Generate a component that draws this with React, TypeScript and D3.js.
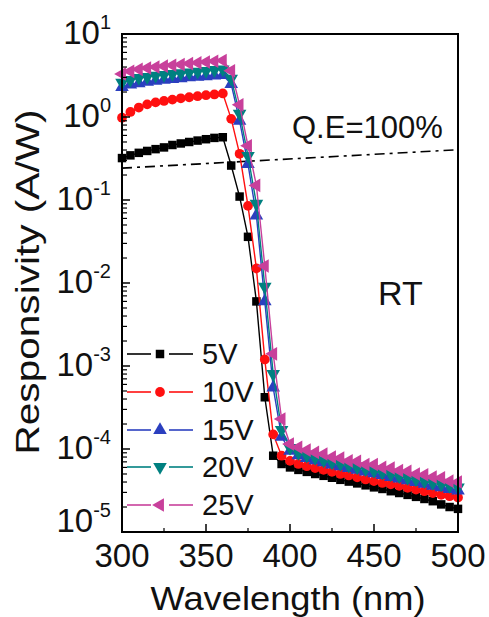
import React from "react";
import * as d3 from "d3";

const wavelengths = [
  300, 305, 310, 315, 320, 325, 330, 335, 340, 345, 350, 355, 360, 365, 370, 375, 380, 385, 390, 395,
  400, 405, 410, 415, 420, 425, 430, 435, 440, 445, 450, 455, 460, 465, 470, 475, 480, 485, 490, 495, 500,
];

const r5V = [
  0.32, 0.345, 0.37, 0.39, 0.41, 0.43, 0.46, 0.48, 0.5, 0.52, 0.54, 0.56, 0.57,
  0.26, 0.11, 0.036, 0.006, 4.2e-4, 8.3e-5, 6.6e-5,
  6.0e-5, 5.6e-5, 5.3e-5, 5.0e-5, 4.75e-5, 4.5e-5, 4.25e-5, 4.05e-5, 3.85e-5, 3.65e-5, 3.45e-5,
  3.3e-5, 3.1e-5, 2.95e-5, 2.8e-5, 2.65e-5, 2.5e-5, 2.35e-5, 2.15e-5, 2.0e-5, 1.9e-5,
];
const r10V = [
  0.98, 1.15, 1.3, 1.42, 1.5, 1.56, 1.62, 1.68, 1.73, 1.78, 1.83, 1.87, 1.92,
  0.95, 0.36, 0.085, 0.015, 1.2e-3, 1.5e-4, 8.3e-5,
  7.2e-5, 6.6e-5, 6.2e-5, 5.9e-5, 5.6e-5, 5.3e-5, 5.0e-5, 4.8e-5, 4.55e-5, 4.3e-5, 4.1e-5,
  3.9e-5, 3.75e-5, 3.6e-5, 3.4e-5, 3.25e-5, 3.1e-5, 2.95e-5, 2.8e-5, 2.7e-5, 2.6e-5,
];
const r15V = [
  2.3, 2.45, 2.55, 2.65, 2.72, 2.8, 2.87, 2.93, 3.0, 3.05, 3.1, 3.15, 3.2,
  2.5, 0.9, 0.27, 0.065, 0.006, 5.5e-4, 1.4e-4,
  9.5e-5, 8.4e-5, 7.8e-5, 7.3e-5, 6.9e-5, 6.5e-5, 6.2e-5, 5.9e-5, 5.6e-5, 5.35e-5, 5.1e-5,
  4.85e-5, 4.6e-5, 4.4e-5, 4.2e-5, 4.0e-5, 3.8e-5, 3.6e-5, 3.45e-5, 3.3e-5, 3.15e-5,
];
const r20V = [
  2.6, 2.8, 2.95, 3.05, 3.15, 3.22, 3.3, 3.37, 3.45, 3.52, 3.6, 3.68, 3.75,
  2.9, 1.1, 0.34, 0.09, 0.009, 8e-4, 1.7e-4,
  1.03e-4, 9.0e-5, 8.3e-5, 7.8e-5, 7.3e-5, 6.9e-5, 6.6e-5, 6.3e-5, 6.0e-5, 5.7e-5, 5.45e-5,
  5.2e-5, 4.95e-5, 4.7e-5, 4.5e-5, 4.3e-5, 4.1e-5, 3.9e-5, 3.75e-5, 3.6e-5, 3.45e-5,
];
const r25V = [
  3.3, 3.55, 3.75, 3.9, 4.0, 4.1, 4.2, 4.3, 4.4, 4.5, 4.6, 4.7, 4.8,
  3.6, 1.4, 0.45, 0.15, 0.016, 1.4e-3, 2.3e-4,
  1.15e-4, 1.05e-4, 9.7e-5, 9.1e-5, 8.7e-5, 8.0e-5, 7.8e-5, 7.2e-5, 7.1e-5, 6.5e-5, 6.5e-5,
  6.0e-5, 5.9e-5, 5.5e-5, 5.4e-5, 5.0e-5, 4.9e-5, 4.6e-5, 4.5e-5, 4.1e-5, 4.0e-5,
];

const seriesLabels = ["5V", "10V", "15V", "20V", "25V"];
const seriesValues = [r5V, r10V, r15V, r20V, r25V];
const seriesColors = ["#000000", "#ff1010", "#2b3fbf", "#008080", "#c8409b"];
const seriesSymbols = ["square", "circle", "up", "down", "left"];

const qeWavelengths = [300, 500];
const qeValues = [0.242, 0.403];

const xTicks = [300, 350, 400, 450, 500];
const xMinorTicks = [325, 375, 425, 475];
const yExponents = [1, 0, -1, -2, -3, -4, -5];

const W = 489;
const H = 617;
const L = 122;
const R = 458;
const T = 34;
const B = 532;
const FONT = "'Liberation Sans', Arial, Helvetica, sans-serif";

function Marker({ kind, x, y, color }: { kind: string; x: number; y: number; color: string }) {
  let type: any = d3.symbolSquare;
  let size = 72;
  let rot = 0;
  if (kind === "circle") { type = d3.symbolCircle; size = 75; }
  if (kind === "up") { type = d3.symbolTriangle; size = 80; }
  if (kind === "down") { type = d3.symbolTriangle; size = 80; rot = 180; }
  if (kind === "left") { type = d3.symbolTriangle; size = 80; rot = -90; }
  const p = d3.symbol().type(type).size(size)() || "";
  return <path d={p} transform={`translate(${x},${y}) rotate(${rot})`} fill={color} />;
}

export default function App() {
  const x = d3.scaleLinear().domain([300, 500]).range([L, R]);
  const y = d3.scaleLog().domain([1e-5, 10]).range([B, T]);
  const line = d3
    .line<[number, number]>()
    .x((d) => x(d[0]))
    .y((d) => y(d[1]));

  const minorY: number[] = [];
  for (let e = -5; e < 1; e++) {
    for (let k = 2; k <= 9; k++) minorY.push(k * Math.pow(10, e));
  }

  const legendYs = [354, 392, 430, 467, 505];

  return (
    <svg width={W} height={H} style={{ position: "absolute", left: 0, top: 0, background: "#fff" }} fontFamily={FONT}>
      <rect x={0} y={0} width={W} height={H} fill="#fff" />
      <path
        d={line(qeWavelengths.map((w, i) => [w, qeValues[i]]) as [number, number][]) || ""}
        stroke="#000"
        strokeWidth={1.6}
        fill="none"
        strokeDasharray="10 5 3 5"
      />
      {seriesValues.map((vals, si) => {
        const pts = wavelengths.map((w, i) => [w, vals[i]] as [number, number]);
        return (
          <g key={si}>
            <path d={line(pts) || ""} stroke={seriesColors[si]} strokeWidth={1.4} fill="none" />
            {pts.map((p, i) => (
              <Marker key={i} kind={seriesSymbols[si]} x={x(p[0])} y={y(p[1])} color={seriesColors[si]} />
            ))}
          </g>
        );
      })}
      <rect x={L} y={T} width={R - L} height={B - T} fill="none" stroke="#000" strokeWidth={2} />
      {yExponents.map((e) => (
        <line key={"yt" + e} x1={L} x2={L + 8} y1={y(Math.pow(10, e))} y2={y(Math.pow(10, e))} stroke="#000" strokeWidth={1.5} />
      ))}
      {minorY.map((v, i) => (
        <line key={"ym" + i} x1={L} x2={L + 5} y1={y(v)} y2={y(v)} stroke="#000" strokeWidth={1.2} />
      ))}
      {xTicks.map((t) => (
        <line key={"xt" + t} x1={x(t)} x2={x(t)} y1={B} y2={B - 8} stroke="#000" strokeWidth={1.5} />
      ))}
      {xMinorTicks.map((t) => (
        <line key={"xm" + t} x1={x(t)} x2={x(t)} y1={B} y2={B - 4} stroke="#000" strokeWidth={1.2} />
      ))}
      {yExponents.map((e) => (
        <text
          key={"yl" + e}
          x={111}
          y={y(Math.pow(10, e)) + (e === -5 ? 0 : 10)}
          textAnchor="end"
          fontSize={33}
          fill="#111"
        >
          <tspan>10</tspan>
          <tspan fontSize={20} dy={-15}>{e < 0 ? "-" + Math.abs(e) : String(e)}</tspan>
        </text>
      ))}
      {xTicks.map((t) => (
        <text key={"xl" + t} x={x(t)} y={567} textAnchor="middle" fontSize={33} fill="#111">
          {t}
        </text>
      ))}
      <text x={288} y={610} textAnchor="middle" fontSize={33} fill="#111" textLength={275} lengthAdjust="spacingAndGlyphs">
        Wavelength (nm)
      </text>
      <text
        transform="translate(39,282) rotate(-90)"
        textAnchor="middle"
        fontSize={33}
        fill="#111"
        textLength={345}
        lengthAdjust="spacingAndGlyphs"
      >
        Responsivity (A/W)
      </text>
      <text x={292} y={138} fontSize={31} fill="#111">Q.E=100%</text>
      <text x={378} y={305} fontSize={34} fill="#111">RT</text>
      {seriesLabels.map((lab, i) => (
        <g key={"lg" + i}>
          <line x1={127} x2={151} y1={legendYs[i]} y2={legendYs[i]} stroke={seriesColors[i]} strokeWidth={1.6} />
          <line x1={169} x2={193} y1={legendYs[i]} y2={legendYs[i]} stroke={seriesColors[i]} strokeWidth={1.6} />
          <Marker kind={seriesSymbols[i]} x={160} y={legendYs[i]} color={seriesColors[i]} />
          <text x={202} y={legendYs[i] + 10} fontSize={29} fill="#111">{lab}</text>
        </g>
      ))}
    </svg>
  );
}
